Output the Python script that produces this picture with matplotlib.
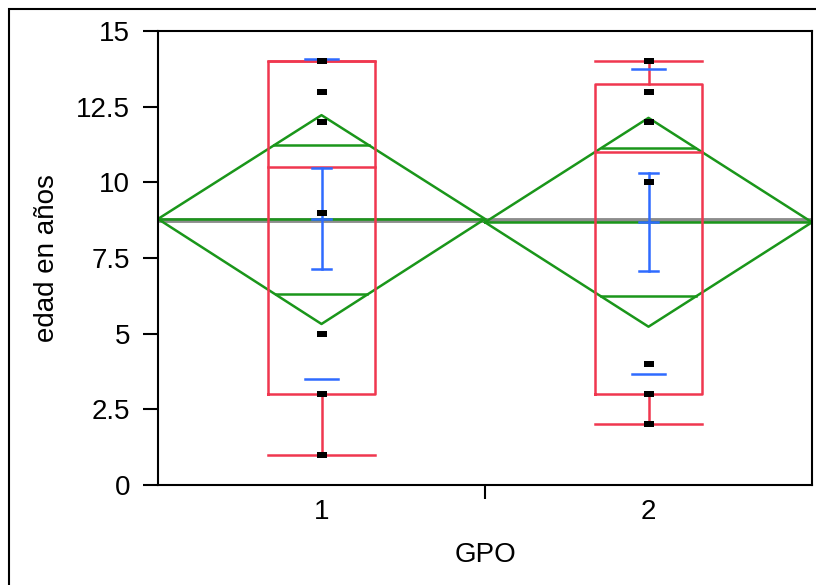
import matplotlib
matplotlib.use("Agg")
import matplotlib.pyplot as plt
from matplotlib.patches import Rectangle

plt.rcParams['font.family'] = ['Liberation Sans', 'DejaVu Sans']

# datos
grupos = [1, 2]
puntos = [[1, 3, 5, 9, 12, 13, 14],
          [2, 3, 4, 10, 12, 13, 14]]
caja_q1 = [3, 3]
caja_med = [10.5, 11.0]
caja_q3 = [14.0, 13.25]
bigote_lo = [1, 2]
bigote_hi = [14, 14]
medias = [8.79, 8.68]
ic_hi = [12.22, 12.13]      # extremos del diamante (IC 95%)
ic_lo = [5.32, 5.23]
solape_hi = [11.23, 11.14]  # marcas de solapamiento
solape_lo = [6.32, 6.23]
ee_hi = [10.48, 10.31]      # barras de error de la media
ee_lo = [7.14, 7.07]
de_hi = [14.06, 13.73]      # lineas de desviacion estandar
de_lo = [3.49, 3.66]
media_global = 8.74

rojo = '#F0374F'
verde = '#1A961A'
azul = '#2F6BFF'
gris = '#8C8C8C'

fig = plt.figure(figsize=(8.16, 5.85), dpi=100)
ax = fig.add_axes([158/816, 100/585, 654/816, 454/585])

# marco exterior
fig.patches.append(Rectangle((9/816, -0.1), 2, (585-9)/585 + 0.1, transform=fig.transFigure,
                             fill=False, ec='black', lw=1.5))

ax.plot([0.5, 2.5], [media_global, media_global], color=gris, lw=3.5, zorder=1)

medio_caja = 0.165
medio_de = 0.05
medio_ee = 0.028

for i, g in enumerate(grupos):
    izq, der = g - 0.5, g + 0.5
    # diamante de medias
    ax.plot([izq, g, der, g, izq], [medias[i], ic_hi[i], medias[i], ic_lo[i], medias[i]],
            color=verde, lw=1.8, zorder=2)
    ax.plot([izq, der], [medias[i], medias[i]], color=verde, lw=1.8, zorder=2)
    semi = ic_hi[i] - medias[i]
    for y in (solape_hi[i], solape_lo[i]):
        w = 0.5 * (1 - abs(y - medias[i]) / semi)
        ax.plot([g - w, g + w], [y, y], color=verde, lw=1.8, zorder=2)
    # caja
    ax.plot([g - medio_caja, g + medio_caja, g + medio_caja, g - medio_caja, g - medio_caja],
            [caja_q1[i], caja_q1[i], caja_q3[i], caja_q3[i], caja_q1[i]], color=rojo, lw=1.8, zorder=3)
    ax.plot([g - medio_caja, g + medio_caja], [caja_med[i], caja_med[i]], color=rojo, lw=1.8, zorder=3)
    ax.plot([g, g], [bigote_lo[i], caja_q1[i]], color=rojo, lw=1.8, zorder=3)
    ax.plot([g, g], [caja_q3[i], bigote_hi[i]], color=rojo, lw=1.8, zorder=3)
    for y in (bigote_lo[i], bigote_hi[i]):
        ax.plot([g - medio_caja, g + medio_caja], [y, y], color=rojo, lw=1.8, zorder=3)
    # barras de error y desviacion
    ax.plot([g, g], [ee_lo[i], ee_hi[i]], color=azul, lw=1.8, zorder=4)
    for y in (ee_lo[i], ee_hi[i], medias[i]):
        ax.plot([g - medio_ee, g + medio_ee], [y, y], color=azul, lw=1.8, zorder=4)
    for y in (de_lo[i], de_hi[i]):
        ax.plot([g - medio_de, g + medio_de], [y, y], color=azul, lw=1.8, zorder=4)
    # puntos
    marca = [(-1.5, -1), (1.5, -1), (1.5, 1), (-1.5, 1), (-1.5, -1)]
    ax.plot([g] * len(puntos[i]), puntos[i], linestyle='none', marker=marca, ms=6.5,
            mew=0, color='black', zorder=5)

ax.set_xlim(0.5, 2.5)
ax.set_ylim(0, 15)
ax.set_yticks([0, 2.5, 5, 7.5, 10, 12.5, 15])
ax.set_yticklabels(['0', '2.5', '5', '7.5', '10', '12.5', '15'])
ax.set_xticks(grupos)
ax.set_xticklabels(['1', '2'])
ax.set_xticks([1.5], minor=True)
ax.tick_params(axis='x', which='major', length=0, pad=10, labelsize=20)
ax.tick_params(axis='x', which='minor', length=10, width=1.5, direction='out')
ax.tick_params(axis='y', length=11, width=1.5, direction='out', pad=9, labelsize=20)
for s in ax.spines.values():
    s.set_linewidth(1.5)

ax.set_xlabel('GPO', fontsize=20)
ax.set_ylabel('edad en años', fontsize=20)
ax.xaxis.set_label_coords(0.5, -0.155)
ax.yaxis.set_label_coords(-0.17, 0.5)
ax.xaxis.label.set_va('center')
ax.yaxis.label.set_va('center')

fig.savefig('out.png', dpi=100)
